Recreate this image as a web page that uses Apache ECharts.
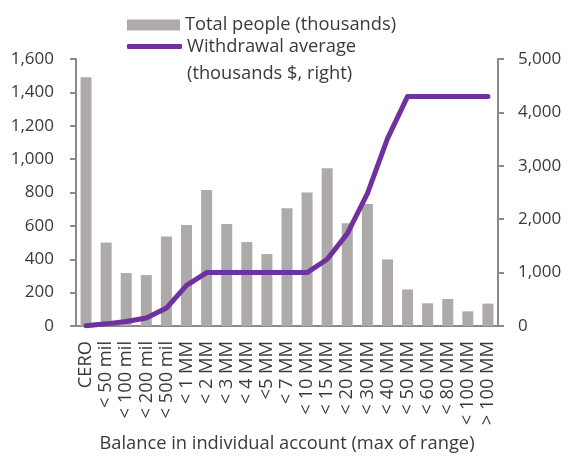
<!DOCTYPE html>
<html>
<head>
<meta charset="utf-8">
<script src="https://cdn.jsdelivr.net/npm/echarts@6/dist/echarts.min.js"></script>
<style>
html,body{margin:0;padding:0;background:#fff;}
#chart{width:570px;height:457px;}
</style>
</head>
<body>
<div id="chart"></div>
<script>
var categories = ['CERO', '< 50 mil', '< 100 mil', '< 200 mil', '< 500 mil', '< 1 MM', '< 2 MM', '< 3 MM', '< 4 MM', '<5 MM', '< 7 MM', '< 10 MM', '< 15 MM', '< 20 MM', '< 30 MM', '< 40 MM', '< 50 MM', '< 60 MM', '< 80 MM', '< 100 MM', '> 100 MM'];
var totalPeople = [1490, 500, 317, 305, 537, 605, 815, 611, 503, 431, 705, 800, 945, 615, 731, 399, 219, 136, 162, 88, 134];
var withdrawalAvg = [5, 40, 85, 150, 335, 760, 1000, 1000, 1000, 1000, 1000, 1000, 1250, 1730, 2480, 3510, 4300, 4300, 4300, 4300, 4300];
var leftTicks = {min: 0, max: 1600, interval: 200};
var rightTicks = {min: 0, max: 5000, interval: 1000};
var barName = 'Total people (thousands)';
var lineName = 'Withdrawal average\n(thousands $, right)';
var xTitle = 'Balance in individual account (max of range)';

var FONT = 'Open Sans';
var TXT = '#3a3a3a';
var AX = '#8a8a8a';
function fmt(v){ return v.toLocaleString('en-US'); }

var chart = echarts.init(document.getElementById('chart'), null, {renderer: 'canvas'});
chart.setOption({
  animation: false,
  backgroundColor: '#ffffff',
  textStyle: {fontFamily: FONT},
  grid: {left: 76, right: 72, top: 59, bottom: 131, containLabel: false, outerBoundsMode: 'none'},
  legend: [
    {
      data: [{name: barName, icon: 'rect'}],
      left: 127, top: 16, padding: 0,
      itemWidth: 53, itemHeight: 11, itemGap: 0,
      selectedMode: false,
      textStyle: {fontFamily: FONT, fontSize: 18.3, color: TXT}
    },
    {
      data: [{name: lineName, icon: 'roundRect'}],
      left: 127, top: 6, padding: 0,
      itemWidth: 55, itemHeight: 5, itemGap: 0,
      selectedMode: false,
      formatter: function (n) { return ' \n' + n; },
      textStyle: {fontFamily: FONT, fontSize: 18.3, color: TXT, lineHeight: 27}
    }
  ],
  xAxis: {
    type: 'category',
    data: categories,
    boundaryGap: true,
    axisLine: {show: true, lineStyle: {color: AX, width: 2}},
    axisTick: {show: false},
    axisLabel: {rotate: 90, interval: 0, margin: 15, fontFamily: FONT, fontSize: 18.3, color: TXT},
    name: xTitle,
    nameLocation: 'middle',
    nameGap: 109,
    nameTextStyle: {fontFamily: FONT, fontSize: 18.3, color: TXT},
    splitLine: {show: false}
  },
  yAxis: [
    {
      type: 'value', position: 'left',
      min: leftTicks.min, max: leftTicks.max, interval: leftTicks.interval,
      axisLine: {show: true, lineStyle: {color: AX, width: 2}},
      axisTick: {show: true, inside: false, length: 6, lineStyle: {color: AX, width: 2}},
      axisLabel: {margin: 22, fontFamily: FONT, fontSize: 17, color: TXT, formatter: fmt},
      splitLine: {show: false}
    },
    {
      type: 'value', position: 'right',
      min: rightTicks.min, max: rightTicks.max, interval: rightTicks.interval,
      axisLine: {show: true, lineStyle: {color: AX, width: 2}},
      axisTick: {show: true, inside: false, length: 6, lineStyle: {color: AX, width: 2}},
      axisLabel: {margin: 20, fontFamily: FONT, fontSize: 17, color: TXT, formatter: fmt},
      splitLine: {show: false}
    }
  ],
  series: [
    {
      name: barName,
      type: 'bar',
      yAxisIndex: 0,
      data: totalPeople,
      barWidth: 11,
      itemStyle: {color: '#AEAAAA'},
      z: 2
    },
    {
      name: lineName,
      type: 'line',
      yAxisIndex: 1,
      data: withdrawalAvg,
      showSymbol: false,
      symbol: 'none',
      lineStyle: {color: '#7030A0', width: 5, cap: 'round', join: 'round'},
      itemStyle: {color: '#7030A0'},
      z: 3
    }
  ]
});
</script>
</body>
</html>
